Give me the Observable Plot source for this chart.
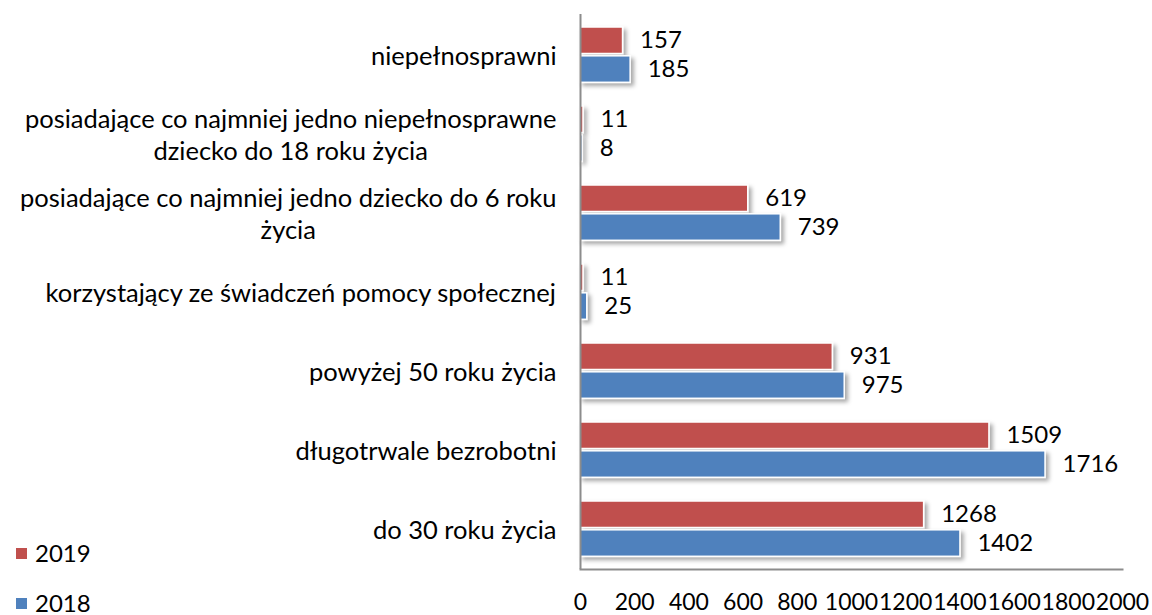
<!DOCTYPE html>
<html><head><meta charset="utf-8">
<script src="https://cdn.jsdelivr.net/npm/d3@7"></script>
<script src="https://cdn.jsdelivr.net/npm/@observablehq/plot@0.6"></script>
<style>
body{margin:0;background:#fff;font-family:Lato,sans-serif}
#wrap{position:relative;width:1152px;height:615px}
.legend{position:absolute;left:16px;font-size:24px;line-height:24px;color:#000;display:flex;align-items:center}
.legend .sw{display:inline-block;width:11px;height:11px;margin-right:8px}
</style></head><body><div id="wrap"></div>
<script>
const categories = [
  "niepełnosprawni",
  "posiadające co najmniej jedno niepełnosprawne\ndziecko do 18 roku życia",
  "posiadające co najmniej jedno dziecko do 6 roku\nżycia",
  "korzystający ze świadczeń pomocy społecznej",
  "powyżej 50 roku życia",
  "długotrwale bezrobotni",
  "do 30 roku życia"
];
const years = ["2019", "2018"];
const values2019 = [157, 11, 619, 11, 931, 1509, 1268];
const values2018 = [185, 8, 739, 25, 975, 1716, 1402];
const xTicks = [0, 200, 400, 600, 800, 1000, 1200, 1400, 1600, 1800, 2000];
const colors = ["#C0504D", "#4F81BD"];

const d2019 = categories.map((c, i) => ({category: c, year: "2019", value: values2019[i]}));
const d2018 = categories.map((c, i) => ({category: c, year: "2018", value: values2018[i]}));

const FONT = 23, LABEL_FONT = 25.5, VALUE_FONT = 24;
const ctx = document.createElement("canvas").getContext("2d");
ctx.font = `${LABEL_FONT}px Lato`;
const labelMarks = categories.map(c => {
  const w = d3.max(c.split("\n"), l => ctx.measureText(l).width);
  return Plot.text([c], {y: d => d, text: d => d, frameAnchor: "left", textAnchor: "middle",
    dx: -(24 + w / 2), lineHeight: 1.25, fontSize: LABEL_FONT, fill: "#000"});
});

const plot = Plot.plot({
  width: 1152, height: 615,
  marginLeft: 580, marginRight: 30, marginTop: 14, marginBottom: 46,
  style: {fontFamily: "Lato, sans-serif", fontSize: FONT + "px", color: "#000", background: "#fff"},
  x: {domain: [0, 2000], ticks: xTicks, label: null},
  y: {domain: categories, padding: 0, axis: null},
  color: {domain: years, range: colors},
  marks: [
    Plot.barX(d2019, {y: "category", x: "value", fill: "year", stroke: "white", strokeWidth: 1.5, insetTop: 12, insetBottom: 40.5}),
    Plot.barX(d2018, {y: "category", x: "value", fill: "year", stroke: "white", strokeWidth: 1.5, insetTop: 40.8, insetBottom: 11.7}),
    Plot.text(d2019, {y: "category", x: "value", text: d => String(d.value), textAnchor: "start", dx: 17, dy: -14.2, fontSize: VALUE_FONT, fill: "#000"}),
    Plot.text(d2018, {y: "category", x: "value", text: d => String(d.value), textAnchor: "start", dx: 17, dy: 14.6, fontSize: VALUE_FONT, fill: "#000"}),
    Plot.ruleX([0], {stroke: "#8c8c8c", strokeWidth: 2}),
    Plot.frame({anchor: "bottom", stroke: "#8c8c8c", strokeWidth: 2}),
    Plot.axisX({ticks: xTicks, tickSize: 0, tickPadding: 24, label: null, tickFormat: d => String(d)}),
    ...labelMarks
  ]
});

const svg = d3.select(plot);
const defs = svg.insert("defs", ":first-child");
defs.append("filter").attr("id", "shadow").attr("x", "-10%").attr("y", "-30%").attr("width", "130%").attr("height", "180%")
  .append("feDropShadow").attr("dx", 3).attr("dy", 3).attr("stdDeviation", 2)
  .attr("flood-color", "#000").attr("flood-opacity", 0.35);
svg.selectAll('g[aria-label="bar"]').attr("filter", "url(#shadow)");

const wrap = document.getElementById("wrap");
wrap.appendChild(plot);
years.forEach((y, i) => {
  const div = document.createElement("div");
  div.className = "legend";
  div.style.top = (541 + i * 50) + "px";
  div.innerHTML = `<span class="sw" style="background:${colors[i]}"></span>${y}`;
  wrap.appendChild(div);
});
</script></body></html>
